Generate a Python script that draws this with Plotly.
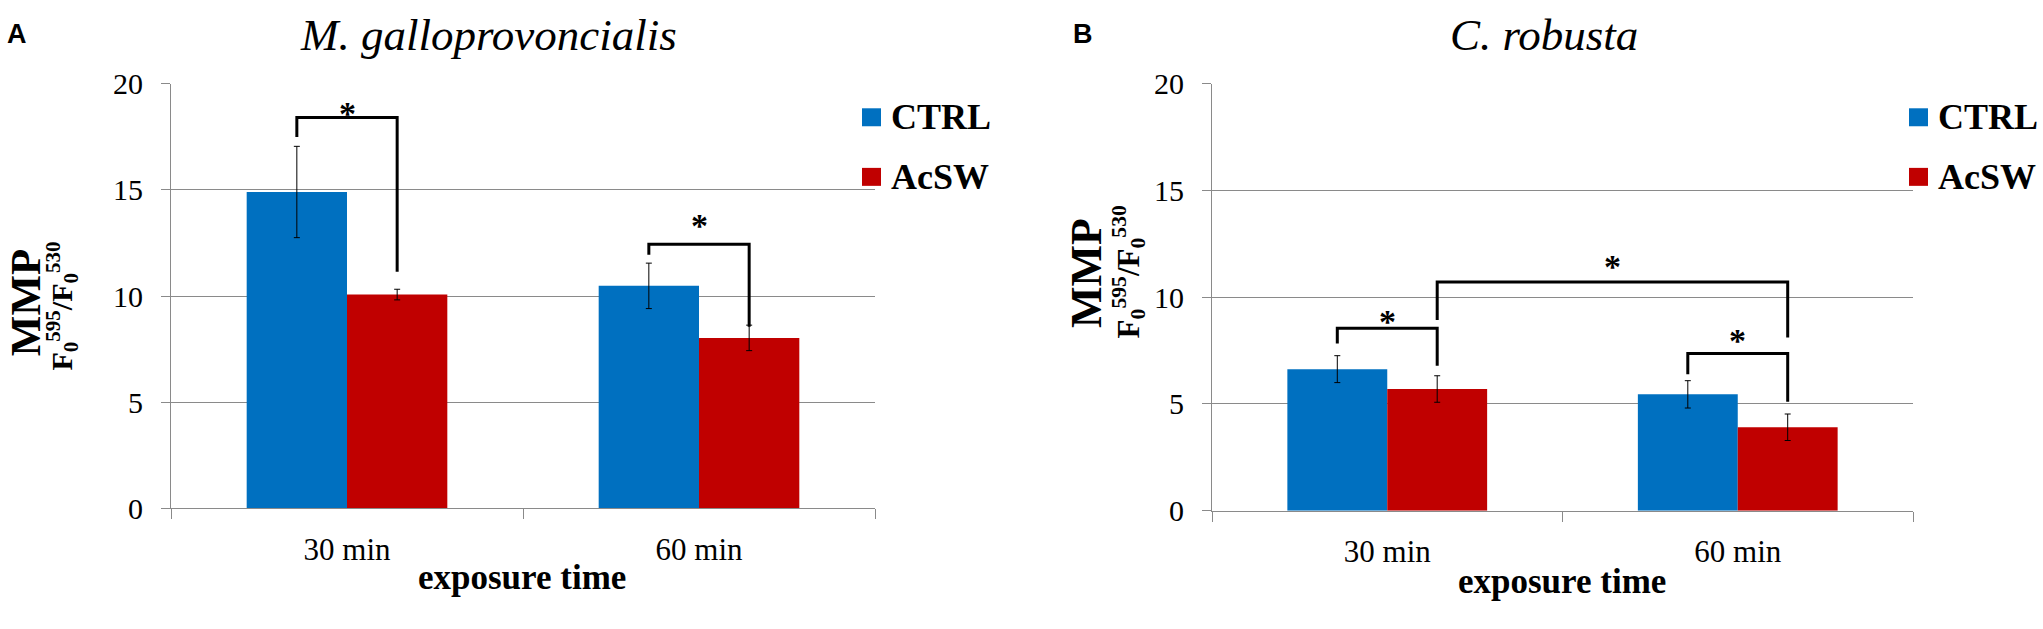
import plotly.graph_objects as go

W, H = 2043, 629

categories = ["30 min", "60 min"]
series = ["CTRL", "AcSW"]
colors = ["#0070C0", "#C00000"]

# panel A - M. galloprovoncialis
a_ctrl = [14.9, 10.48]
a_ctrl_err = [2.15, 1.07]
a_acsw = [10.07, 8.03]
a_acsw_err = [0.25, 0.6]

# panel B - C. robusta
b_ctrl = [6.63, 5.45]
b_ctrl_err = [0.63, 0.64]
b_acsw = [5.7, 3.91]
b_acsw_err = [0.62, 0.62]

# brackets: (cat, series) -> (cat, series), top, left foot, right foot, star
a_brackets = [((0, 0), (0, 1), 18.41, 17.49, 11.15, 18.93),
              ((1, 0), (1, 1), 12.44, 11.95, 8.56, 13.63)]
b_brackets = [((0, 0), (0, 1), 8.54, 7.83, 6.79, 9.2),
              ((0, 1), (1, 1), 10.71, 8.93, 8.11, 11.74),
              ((1, 0), (1, 1), 7.36, 6.39, 5.10, 8.32)]

SERIF = "Liberation Serif, Times New Roman, serif"
SANS = "Liberation Sans, Arial, sans-serif"
GRID = "#8a8a8a"
BARGAP = 0.43


def px(x):
    return x / W


def py(y):
    return 1 - y / H


fig = go.Figure()

panels = [
    ("x", "y", [a_ctrl, a_acsw], [a_ctrl_err, a_acsw_err]),
    ("x2", "y2", [b_ctrl, b_acsw], [b_ctrl_err, b_acsw_err]),
]
for xa, ya, vals, errs in panels:
    for name, col, v, e in zip(series, colors, vals, errs):
        fig.add_trace(go.Bar(
            x=categories, y=v, name=name, marker_color=col, marker_line_width=0,
            error_y=dict(type="data", array=e, color="black", thickness=1, width=3),
            xaxis=xa, yaxis=ya, showlegend=False,
        ))

yax = dict(range=[0, 20], dtick=5, showgrid=True, gridcolor=GRID, gridwidth=1,
           ticks="outside", ticklen=9, tickcolor=GRID, showline=True, linecolor=GRID,
           zeroline=False, tickfont=dict(family=SERIF, size=30, color="black"),
           ticklabelstandoff=12, fixedrange=True)
xax = dict(type="category", showline=True, linecolor=GRID, linewidth=1, ticks="outside",
           tickson="boundaries", ticklen=10, tickcolor=GRID, showgrid=False,
           tickfont=dict(family=SERIF, size=31, color="black"), ticklabelstandoff=13)
# hidden linear axes for the brackets
hax = dict(range=[-0.5, 1.5], visible=False, showgrid=False, zeroline=False)

fig.update_layout(
    width=W, height=H, margin=dict(l=0, r=0, t=0, b=0),
    paper_bgcolor="white", plot_bgcolor="white",
    barmode="group", bargap=BARGAP, bargroupgap=0,
    xaxis=dict(xax, domain=[px(171), px(875)], anchor="y"),
    yaxis=dict(yax, domain=[py(519.5), py(70.5)], anchor="x"),
    xaxis2=dict(xax, domain=[px(1212), px(1913)], anchor="y2"),
    yaxis2=dict(yax, domain=[py(522), py(70.3)], anchor="x2"),
    xaxis3=dict(hax, domain=[px(171), px(875)], anchor="y", overlaying="x"),
    xaxis4=dict(hax, domain=[px(1212), px(1913)], anchor="y2", overlaying="x2"),
)

off = (1 - BARGAP) / 4


def bar_x(ref):
    cat, s = ref
    return cat + (off if s else -off)


for xr, yr, brs in [("x3", "y", a_brackets), ("x4", "y2", b_brackets)]:
    for left, right, top, yl, yrgt, star in brs:
        x0, x1 = bar_x(left), bar_x(right)
        fig.add_shape(type="path", xref=xr, yref=yr,
                      path=f"M {x0},{yl} L {x0},{top} L {x1},{top} L {x1},{yrgt}",
                      line=dict(color="black", width=3))
        fig.add_annotation(x=(x0 + x1) / 2, y=star, xref=xr, yref=yr, text="*",
                           showarrow=False, yshift=-7,
                           font=dict(family=SERIF, size=34, color="black", weight="bold"))

# legends
for lx, tx in [(862, 889), (1909, 1936)]:
    for name, col, cy in zip(series, colors, [106, 169]):
        fig.add_shape(type="rect", xref="paper", yref="paper",
                      x0=px(lx), x1=px(lx + 19), y0=py(cy - 9.5), y1=py(cy + 9.5),
                      fillcolor=col, line_width=0)
        fig.add_annotation(x=px(tx), y=py(cy), xref="paper", yref="paper", text=name,
                           showarrow=False, xanchor="left", yanchor="middle",
                           font=dict(family=SERIF, size=36, color="black", weight="bold"))

ylab2 = "F<sub>0</sub><sup>595</sup>/F<sub>0</sub><sup>530</sup>"
texts = [
    ("A", 16.5, 17.5, dict(family=SANS, size=27, weight="bold"), 0),
    ("B", 1083, 17.5, dict(family=SANS, size=27, weight="bold"), 0),
    ("M. galloprovoncialis", 488, 19, dict(family=SERIF, size=45, style="italic"), 0),
    ("C. robusta", 1544, 19, dict(family=SERIF, size=45, style="italic"), 0),
    ("exposure time", 522, 592, dict(family=SERIF, size=35, weight="bold"), 0),
    ("exposure time", 1562, 597, dict(family=SERIF, size=35, weight="bold"), 0),
    ("MMP", 25, 302.5, dict(family=SERIF, size=43, weight="bold"), -90),
    ("MMP", 1086, 270.7, dict(family=SERIF, size=44, weight="bold"), -90),
    (ylab2, 62, 306, dict(family=SERIF, size=30, weight="bold"), -90),
    (ylab2, 1129, 270, dict(family=SERIF, size=31, weight="bold"), -90),
]
for t, x, y, f, ang in texts:
    f = dict(f, color="black")
    fig.add_annotation(x=px(x), y=py(y), xref="paper", yref="paper", text=t,
                       showarrow=False, textangle=ang, font=f,
                       xanchor="center", yanchor="middle")

fig.write_html("out.html", config={"displayModeBar": False},
               post_script="document.body.style.margin='0';document.body.style.overflow='hidden';")
